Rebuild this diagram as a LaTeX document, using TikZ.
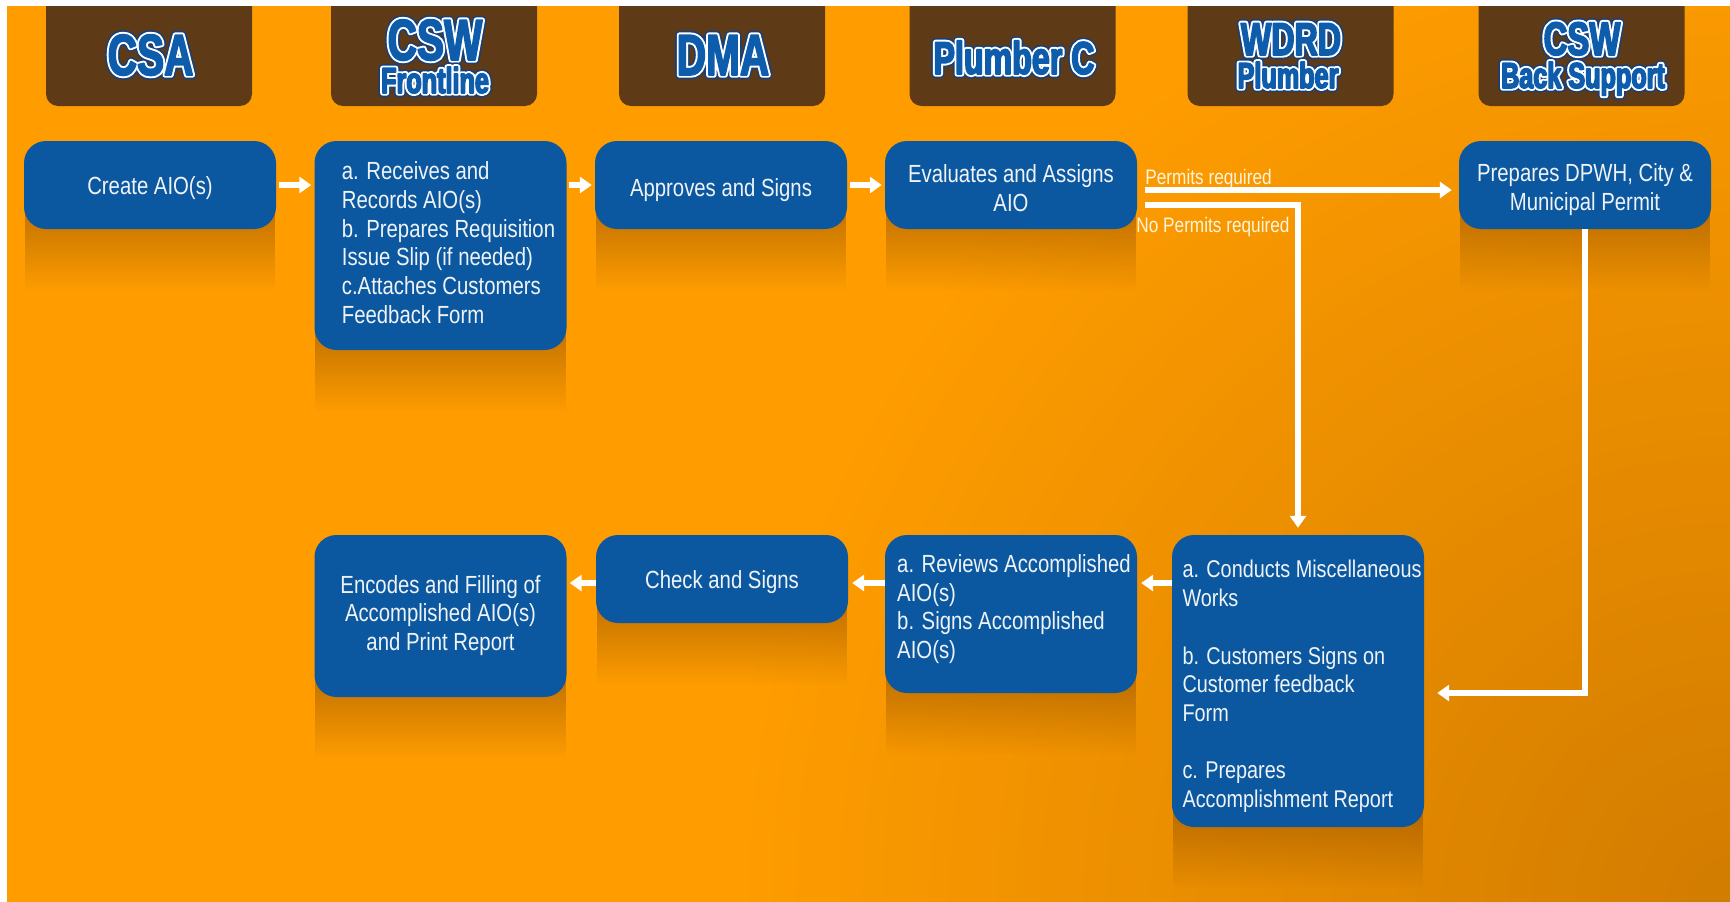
\documentclass[tikz,border=0pt]{standalone}
\usepackage{fontspec}
\usetikzlibrary{arrows.meta,fadings,calc}
\setmainfont{Liberation Sans}
\newfontfamily\boxfont[FakeStretch=0.82]{Liberation Sans}
\newfontfamily\hdrfont[FakeStretch=0.70]{Liberation Sans}

\definecolor{bgorange}{RGB}{255,157,0}
\definecolor{bgdark}{RGB}{210,124,0}
\definecolor{hdrbrown}{RGB}{94,58,22}
\definecolor{boxblue}{RGB}{11,88,160}
\definecolor{hdrblue}{RGB}{14,92,172}
\definecolor{hdredge}{RGB}{24,64,120}
\definecolor{shadowc}{RGB}{150,82,0}
\definecolor{boxtext}{RGB}{240,243,246}
\definecolor{lbltext}{RGB}{255,244,220}

\tikzfading[name=cornerfade, inner color=transparent!0, outer color=transparent!100]

\pgfdeclarelayer{bglayer}
\pgfdeclarelayer{shadowlayer}
\pgfsetlayers{bglayer,shadowlayer,main}

% text drawn with a PDF text-render mode: #1 mode, #2 line width (bp), #3 text
\newcommand\rendertext[3]{\special{pdf:literal direct #1 Tr #2 w 1 j}#3\special{pdf:literal direct 0 Tr}}
% lane title: dark-blue rim, white ring, heavy blue letters
\newcommand\lanetitle[1]{%
  \rlap{\color{hdredge}\rendertext{1}{8.6}{#1}}%
  \rlap{\color{white}\rendertext{1}{5.4}{#1}}%
  {\color{hdrblue}\rendertext{2}{1.5}{#1}}}
\newcommand\hdrsize[1]{\hdrfont\bfseries\fontsize{#1}{#1}\selectfont}

\tikzset{
  hdrbox/.style={rectangle, rounded corners=12pt, fill=hdrbrown, minimum width=206pt, minimum height=130pt, inner sep=0pt},
  hdrtext/.style={anchor=base, inner sep=0pt},
  flowbox/.style={rectangle, rounded corners=22pt, fill=boxblue, minimum width=252pt, inner sep=0pt},
  boxtxt/.style={inner sep=0pt, text=boxtext, font=\boxfont\fontsize{24.8}{28.7}\selectfont},
  lbl/.style={inner sep=0pt, text=lbltext, font=\boxfont\fontsize{21}{25}\selectfont},
  flowarrow/.style={draw=white, line width=5.5pt, -{Triangle[width=16pt,length=12pt]}},
}

\begin{document}
\begin{tikzpicture}[x=1pt,y=-1pt]
\useasboundingbox (0,0) rectangle (1730,902);

% background
\begin{pgfonlayer}{bglayer}
  \fill[white] (0,0) rectangle (1730,902);
  \fill[bgorange] (7,6) rectangle (1730,902);
  \begin{scope}
    \clip (7,6) rectangle (1730,902);
    \fill[bgdark, path fading=cornerfade] (1730,902) circle (1000);
  \end{scope}
\end{pgfonlayer}

% lane headers
\node[hdrbox] (h1) at (149,41) {};
\node[hdrbox] (h2) at (434,41) {};
\node[hdrbox] (h3) at (722,41) {};
\node[hdrbox] (h4) at (1012.5,41) {};
\node[hdrbox] (h5) at (1290.5,41) {};
\node[hdrbox] (h6) at (1581.5,41) {};
\fill[white] (0,0) rectangle (1730,6);

\node[hdrtext, font=\hdrsize{58}] (t1)  at (150.6,75) {\lanetitle{CSA}};
\node[hdrtext, font=\hdrsize{58}] (t2a) at (435,60)   {\lanetitle{CSW}};
\node[hdrtext, font=\hdrsize{36}] (t2b) at (435,93)   {\lanetitle{Frontline}};
\node[hdrtext, font=\hdrsize{58}] (t3)  at (723,75)   {\lanetitle{DMA}};
\node[hdrtext, font=\hdrsize{46}] (t4)  at (1014,74)  {\lanetitle{Plumber C}};
\node[hdrtext, font=\hdrsize{46}] (t5a) at (1291,55)  {\lanetitle{WDRD}};
\node[hdrtext, font=\hdrsize{36}] (t5b) at (1288,88)  {\lanetitle{Plumber}};
\node[hdrtext, font=\hdrsize{47}] (t6a) at (1582,55)  {\lanetitle{CSW}};
\node[hdrtext, font=\hdrsize{36}] (t6b) at (1583,88)  {\lanetitle{Back Support}};

% process boxes
\node[flowbox, minimum height=88pt]  (b1) at (150,185) {};
\node[flowbox, minimum height=209pt] (b2) at (440.5,245.5) {};
\node[flowbox, minimum height=88pt]  (b3) at (721,185) {};
\node[flowbox, minimum height=88pt]  (b4) at (1011,185) {};
\node[flowbox, minimum height=88pt]  (b5) at (1585,185) {};
\node[flowbox, minimum height=162pt] (c1) at (440.5,616) {};
\node[flowbox, minimum height=88pt]  (c2) at (722,579) {};
\node[flowbox, minimum height=158pt] (c3) at (1011,614) {};
\node[flowbox, minimum height=292pt] (c4) at (1298,681) {};

% soft shadows under the boxes
\begin{pgfonlayer}{shadowlayer}
  \foreach \b in {b1,b2,b3,b4,b5,c1,c2,c3,c4}
    \fill[shadowc, fill opacity=0.6, path fading=south]
      ($(\b.south west)+(1,-24)$) rectangle ($(\b.south east)+(-1,62)$);
\end{pgfonlayer}

% box texts
\node[boxtxt] (b1t) at ($(b1)+(0,3)$) {Create AIO(s)};
\node[boxtxt, align=left] (b2t) at ($(b2)+(8,-3)$) {a. Receives and\\Records AIO(s)\\b. Prepares Requisition\\Issue Slip (if needed)\\c.Attaches Customers\\Feedback Form};
\node[boxtxt] (b3t) at ($(b3)+(0,5)$) {Approves and Signs};
\node[boxtxt, align=center] (b4t) at ($(b4)+(0,3)$) {Evaluates and Assigns\\AIO};
\node[boxtxt, align=center] (b5t) at ($(b5)+(0,4.5)$) {Prepares DPWH, City \&\\Municipal Permit};
\node[boxtxt, align=center] (c1t) at ($(c1)+(0,-0.5)$) {Encodes and Filling of\\Accomplished AIO(s)\\and Print Report};
\node[boxtxt] (c2t) at ($(c2)+(0,3)$) {Check and Signs};
\node[boxtxt, align=left] (c3t) at ($(c3)+(3,-5)$) {a. Reviews Accomplished\\AIO(s)\\b. Signs Accomplished\\AIO(s)};
\node[boxtxt, align=left, font=\boxfont\fontsize{24.2}{28.7}\selectfont] (c4t) at ($(c4)+(4,5.5)$) {a. Conducts Miscellaneous\\Works\\[28.7pt]b. Customers Signs on\\Customer feedback\\Form\\[28.7pt]c. Prepares\\Accomplishment Report};

% connectors
\draw[flowarrow, shorten <=3pt, shorten >=3pt] (b1.east) -- (b1.east -| b2.west);
\draw[flowarrow, shorten <=2pt, shorten >=3pt] (b2.east |- b3.west) -- (b3.west);
\draw[flowarrow, shorten <=3pt, shorten >=3pt] (b3.east) -- (b4.west);
\draw[flowarrow, shorten >=7pt] ($(b4.east)+(8,5)$) -- ($(b5.west)+(0,5)$);
\draw[flowarrow, shorten >=7pt] ($(b4.east)+(8,20)$) -| (c4.north);
\draw[flowarrow, shorten >=13pt] (b5.south) |- ($(c4.east)+(0,12)$);
\coordinate (row2) at (0,583);
\draw[flowarrow, shorten >=4pt] (c4.west |- row2) -- (c3.east |- row2);
\draw[flowarrow, shorten >=4pt] (c3.west |- row2) -- (c2.east |- row2);
\draw[flowarrow, shorten >=3pt] (c2.west |- row2) -- (c1.east |- row2);

% branch labels
\node[lbl, anchor=base west] (lperm) at ($(b4.east)+(8,-1)$) {Permits required};
\node[lbl, anchor=base west] (lnoperm) at ($(b4.east)+(-1,47)$) {No Permits required};
\end{tikzpicture}
\end{document}
